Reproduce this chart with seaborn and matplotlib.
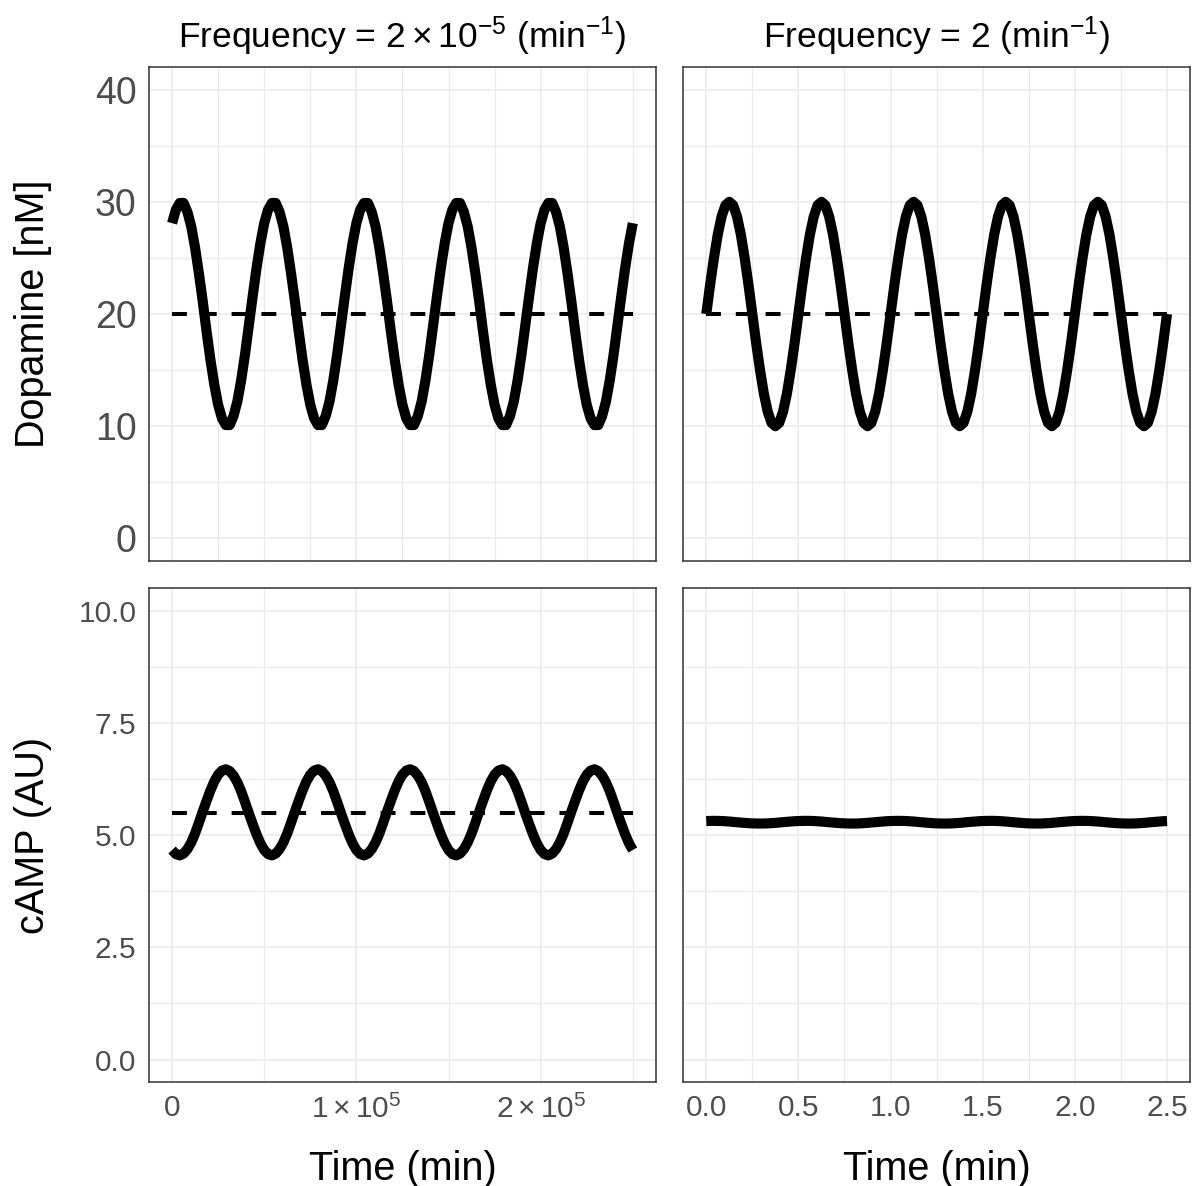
import numpy as np
import pandas as pd
import matplotlib.pyplot as plt
from matplotlib.ticker import FixedLocator
import seaborn as sns

sns.set_style("white")
plt.rcParams['font.family'] = ['Liberation Sans', 'DejaVu Sans']
plt.rcParams['mathtext.fontset'] = 'custom'
plt.rcParams['mathtext.rm'] = 'Liberation Sans'
plt.rcParams['mathtext.it'] = 'Liberation Sans:italic'
plt.rcParams['mathtext.bf'] = 'Liberation Sans:bold'

# ---- data ----
# sample times (24 samples per period, 5 periods)
time_slow = np.linspace(0, 2.5e5, 121)   # frequency 2e-5 1/min
time_fast = np.linspace(0, 2.5, 121)     # frequency 2 1/min

dopamine_slow = [
    28.1, 29.3, 29.9, 29.9, 29.1, 27.8, 25.9, 23.6, 21.1, 18.4, 15.9, 13.7, 11.9, 10.7, 10.1, 10.1, 10.9, 12.2, 14.1, 16.4, 19.0, 21.6, 24.1, 26.3,
    28.1, 29.3, 29.9, 29.9, 29.1, 27.8, 25.9, 23.6, 21.1, 18.4, 15.9, 13.7, 11.9, 10.7, 10.1, 10.1, 10.9, 12.2, 14.1, 16.4, 19.0, 21.6, 24.1, 26.3,
    28.1, 29.3, 29.9, 29.9, 29.1, 27.8, 25.9, 23.6, 21.1, 18.4, 15.9, 13.7, 11.9, 10.7, 10.1, 10.1, 10.9, 12.2, 14.1, 16.4, 19.0, 21.6, 24.1, 26.3,
    28.1, 29.3, 29.9, 29.9, 29.1, 27.8, 25.9, 23.6, 21.1, 18.4, 15.9, 13.7, 11.9, 10.7, 10.1, 10.1, 10.9, 12.2, 14.1, 16.4, 19.0, 21.6, 24.1, 26.3,
    28.1, 29.3, 29.9, 29.9, 29.1, 27.8, 25.9, 23.6, 21.1, 18.4, 15.9, 13.7, 11.9, 10.7, 10.1, 10.1, 10.9, 12.2, 14.1, 16.4, 19.0, 21.6, 24.1, 26.3,
    28.1]
dopamine_fast = [
    20.0, 22.6, 25.0, 27.1, 28.7, 29.7, 30.0, 29.7, 28.7, 27.1, 25.0, 22.6, 20.0, 17.4, 15.0, 12.9, 11.3, 10.3, 10.0, 10.3, 11.3, 12.9, 15.0, 17.4,
    20.0, 22.6, 25.0, 27.1, 28.7, 29.7, 30.0, 29.7, 28.7, 27.1, 25.0, 22.6, 20.0, 17.4, 15.0, 12.9, 11.3, 10.3, 10.0, 10.3, 11.3, 12.9, 15.0, 17.4,
    20.0, 22.6, 25.0, 27.1, 28.7, 29.7, 30.0, 29.7, 28.7, 27.1, 25.0, 22.6, 20.0, 17.4, 15.0, 12.9, 11.3, 10.3, 10.0, 10.3, 11.3, 12.9, 15.0, 17.4,
    20.0, 22.6, 25.0, 27.1, 28.7, 29.7, 30.0, 29.7, 28.7, 27.1, 25.0, 22.6, 20.0, 17.4, 15.0, 12.9, 11.3, 10.3, 10.0, 10.3, 11.3, 12.9, 15.0, 17.4,
    20.0, 22.6, 25.0, 27.1, 28.7, 29.7, 30.0, 29.7, 28.7, 27.1, 25.0, 22.6, 20.0, 17.4, 15.0, 12.9, 11.3, 10.3, 10.0, 10.3, 11.3, 12.9, 15.0, 17.4,
    20.0]
camp_slow = [
    4.67, 4.58, 4.55, 4.59, 4.69, 4.84, 5.04, 5.28, 5.53, 5.77, 6.00, 6.20, 6.35, 6.44, 6.47, 6.43, 6.33, 6.18, 5.98, 5.74, 5.49, 5.25, 5.02, 4.82,
    4.67, 4.58, 4.55, 4.59, 4.69, 4.84, 5.04, 5.28, 5.53, 5.77, 6.00, 6.20, 6.35, 6.44, 6.47, 6.43, 6.33, 6.18, 5.98, 5.74, 5.49, 5.25, 5.02, 4.82,
    4.67, 4.58, 4.55, 4.59, 4.69, 4.84, 5.04, 5.28, 5.53, 5.77, 6.00, 6.20, 6.35, 6.44, 6.47, 6.43, 6.33, 6.18, 5.98, 5.74, 5.49, 5.25, 5.02, 4.82,
    4.67, 4.58, 4.55, 4.59, 4.69, 4.84, 5.04, 5.28, 5.53, 5.77, 6.00, 6.20, 6.35, 6.44, 6.47, 6.43, 6.33, 6.18, 5.98, 5.74, 5.49, 5.25, 5.02, 4.82,
    4.67, 4.58, 4.55, 4.59, 4.69, 4.84, 5.04, 5.28, 5.53, 5.77, 6.00, 6.20, 6.35, 6.44, 6.47, 6.43, 6.33, 6.18, 5.98, 5.74, 5.49, 5.25, 5.02, 4.82,
    4.67]
camp_fast = [
    5.316, 5.319, 5.320, 5.319, 5.316, 5.311, 5.305, 5.297, 5.289, 5.282, 5.275, 5.268, 5.264, 5.261, 5.260, 5.261, 5.264, 5.269, 5.275, 5.283, 5.291, 5.298, 5.305, 5.312,
    5.316, 5.319, 5.320, 5.319, 5.316, 5.311, 5.305, 5.297, 5.289, 5.282, 5.275, 5.268, 5.264, 5.261, 5.260, 5.261, 5.264, 5.269, 5.275, 5.283, 5.291, 5.298, 5.305, 5.312,
    5.316, 5.319, 5.320, 5.319, 5.316, 5.311, 5.305, 5.297, 5.289, 5.282, 5.275, 5.268, 5.264, 5.261, 5.260, 5.261, 5.264, 5.269, 5.275, 5.283, 5.291, 5.298, 5.305, 5.312,
    5.316, 5.319, 5.320, 5.319, 5.316, 5.311, 5.305, 5.297, 5.289, 5.282, 5.275, 5.268, 5.264, 5.261, 5.260, 5.261, 5.264, 5.269, 5.275, 5.283, 5.291, 5.298, 5.305, 5.312,
    5.316, 5.319, 5.320, 5.319, 5.316, 5.311, 5.305, 5.297, 5.289, 5.282, 5.275, 5.268, 5.264, 5.261, 5.260, 5.261, 5.264, 5.269, 5.275, 5.283, 5.291, 5.298, 5.305, 5.312,
    5.316]

# mean levels (dashed lines)
dopamine_mean = 20.0
camp_slow_mean = 5.5

strip_titles = [r"Frequency = $2\times10^{-5}$ (min$^{-1}$)", r"Frequency = 2 (min$^{-1}$)"]
row_titles = ["Dopamine [nM]", "cAMP (AU)"]
x_slow_ticks = [0, 1e5, 2e5]
x_slow_labels = ["0", r"$1\times10^{5}$", r"$2\times10^{5}$"]
x_fast_ticks = [0, 0.5, 1.0, 1.5, 2.0, 2.5]
x_fast_labels = ["0.0", "0.5", "1.0", "1.5", "2.0", "2.5"]
y_top_ticks = [0, 10, 20, 30, 40]
y_bot_ticks = [0, 2.5, 5, 7.5, 10]
y_bot_labels = ["0.0", "2.5", "5.0", "7.5", "10.0"]

# ---- figure ----
fig, axes = plt.subplots(2, 2, figsize=(11.97, 11.86), dpi=100)
fig.subplots_adjust(left=0.1245, right=0.9942, top=0.9433, bottom=0.0877,
                    wspace=0.054, hspace=0.056)

panels = [
    (axes[0, 0], time_slow, dopamine_slow, dopamine_mean),
    (axes[0, 1], time_fast, dopamine_fast, dopamine_mean),
    (axes[1, 0], time_slow, camp_slow, camp_slow_mean),
    (axes[1, 1], time_fast, camp_fast, None),
]

for ax, t, y, ref in panels:
    df = pd.DataFrame({"time": t, "value": y})
    if ref is not None:
        ref_df = pd.DataFrame({"time": [t[0], t[-1]], "value": [ref, ref]})
        sns.lineplot(data=ref_df, x="time", y="value", ax=ax, color="black",
                     linewidth=2.9, dashes=False, linestyle=(0, (3.7, 3.7)))
    sns.lineplot(data=df, x="time", y="value", ax=ax, color="black",
                 linewidth=7.3, solid_capstyle="butt", solid_joinstyle="round")
    ax.set_xlabel("")
    ax.set_ylabel("")
    ax.set_axisbelow(True)
    ax.grid(which="major", color="#EBEBEB", linewidth=1.2)
    ax.grid(which="minor", color="#EBEBEB", linewidth=1.0)
    for s in ax.spines.values():
        s.set_visible(True)
        s.set_color("#333333")
        s.set_linewidth(1.1)
    ax.tick_params(which="major", length=4, width=1.1, color="#333333",
                   labelcolor="#4D4D4D", pad=5, labelsize=21.5)
    ax.tick_params(which="minor", length=0)

# x scales
for r in range(2):
    axes[r, 0].set_xlim(-12500, 262500)
    axes[r, 0].xaxis.set_major_locator(FixedLocator(x_slow_ticks))
    axes[r, 1].set_xlim(-0.125, 2.625)
    axes[r, 1].xaxis.set_major_locator(FixedLocator(x_fast_ticks))
    axes[r, 1].xaxis.set_minor_locator(FixedLocator([0.25, 0.75, 1.25, 1.75, 2.25]))
axes[0, 0].xaxis.set_minor_locator(FixedLocator(
    [0.25e5, 0.5e5, 0.75e5, 1.25e5, 1.5e5, 1.75e5, 2.25e5, 2.5e5]))
axes[1, 0].xaxis.set_minor_locator(FixedLocator([0.5e5, 1.5e5, 2.5e5]))
axes[1, 0].set_xticklabels(x_slow_labels)
axes[1, 1].set_xticklabels(x_fast_labels)

# y scales
for c in range(2):
    axes[0, c].set_ylim(-2, 42)
    axes[0, c].yaxis.set_major_locator(FixedLocator(y_top_ticks))
    axes[0, c].yaxis.set_minor_locator(FixedLocator([5, 15, 25, 35]))
    axes[1, c].set_ylim(-0.5, 10.5)
    axes[1, c].yaxis.set_major_locator(FixedLocator(y_bot_ticks))
    axes[1, c].yaxis.set_minor_locator(FixedLocator([1.25, 3.75, 6.25, 8.75]))
axes[0, 0].set_yticklabels([str(v) for v in y_top_ticks])
axes[0, 0].tick_params(axis="y", labelsize=27)
axes[1, 0].set_yticklabels(y_bot_labels)

# hide inner axes
for c in range(2):
    axes[0, c].tick_params(axis="x", which="both", length=0, labelbottom=False)
for r in range(2):
    axes[r, 1].tick_params(axis="y", which="both", length=0, labelleft=False)

# titles
for c in range(2):
    axes[0, c].set_title(strip_titles[c], fontsize=25.5, pad=14, color="black")
    axes[1, c].set_xlabel("Time (min)", fontsize=28.5, color="black")
    axes[1, c].xaxis.set_label_coords(0.5, -0.138)
    axes[1, c].xaxis.label.set_va("top")
for r in range(2):
    axes[r, 0].set_ylabel(row_titles[r], fontsize=28.5, color="black")
    axes[r, 0].yaxis.set_label_coords(-0.191, 0.5)

fig.savefig("out.png", dpi=100)
